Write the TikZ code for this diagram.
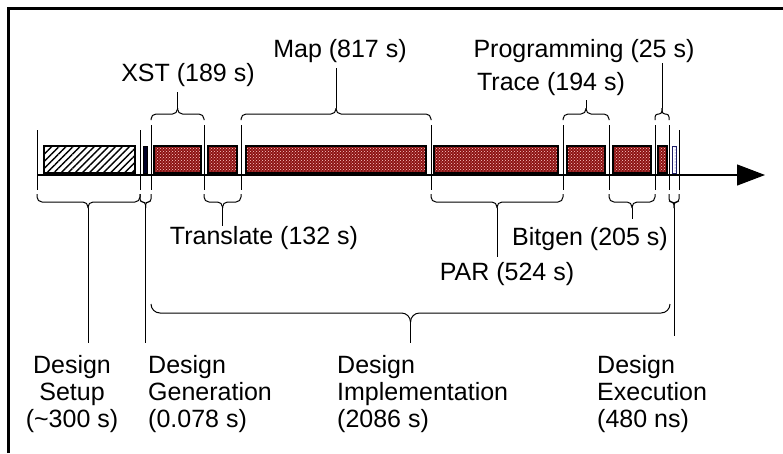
\documentclass[tikz,border=0pt]{standalone}
\usepackage{fontspec}
\setmainfont{Liberation Sans}
\usepackage{tikz}
\usetikzlibrary{
  arrows.meta,
  patterns,
  patterns.meta
}

\definecolor{chkred}{RGB}{140,18,18}
\definecolor{execblue}{RGB}{50,50,170}

\begin{document}
\begin{tikzpicture}[x=1pt, y=-1pt,
    every node/.style={font=\fontsize{25}{27}\selectfont, inner sep=0pt},
    tick/.style={line width=1pt},
    bracearm/.style={line width=1pt, rounded corners=5pt},
    smallarm/.style={line width=1pt, rounded corners=3pt},
    leg/.style={line width=1pt},
    bar/.style={draw=black, line width=1.2pt, preaction={fill=chkred}, pattern=crosshatch dots, pattern color=white!80!red}
  ]
    \useasboundingbox (0,0) rectangle (783,453);

    % Frame (cut by the page on the right and at the bottom)
    \draw[line width=3pt] (8.5,453) -- (8.5,8.5) -- (783,8.5);

    % Time axis
    \coordinate (t0) at (37,175);
    \coordinate (tend) at (765,175);
    \draw[line width=1.2pt, -{Triangle[length=28pt,width=21pt]}] (t0) -- (tend);

    % Bars: setup, generation, implementation steps, execution
    \draw[line width=1.2pt, pattern={Lines[angle=45,distance=5pt,line width=1.4pt]}] (44,146) rectangle (135,173);
    \filldraw[fill=black!85!blue, draw=black, line width=1pt] (143,146) rectangle (147,173);
    \draw[bar] (154,146) rectangle (201,173);
    \draw[bar] (208,146) rectangle (237,173);
    \draw[bar] (246,146) rectangle (426,173);
    \draw[bar] (434,146) rectangle (558,173);
    \draw[bar] (567,146) rectangle (605,173);
    \draw[bar] (613,146) rectangle (651,173);
    \draw[bar] (658,146) rectangle (667,173);
    \draw[line width=1pt, draw=execblue!60!black, pattern=dots, pattern color=execblue] (672,146) rectangle (676,173);

    % Boundary ticks
    \foreach \bx/\ty in {37/130, 140/130, 151/125, 204/125, 241/125, 431/125,
                         563/125, 609/125, 655/125, 669/125, 679/130}
      \draw[tick] (\bx,\ty) -- (\bx,190);

    % Upper braces
    \draw[bracearm] (151,120) |- (177.5,114) -- (177.5,108) coordinate (xsttip);
    \draw[bracearm] (204,120) |- (177.5,114) -- (177.5,108);
    \draw[bracearm] (241,120) |- (336,114) -- (336,108) coordinate (maptip);
    \draw[bracearm] (431,120) |- (336,114) -- (336,108);
    \draw[bracearm] (563,120) |- (586,114) -- (586,108) coordinate (tracetip);
    \draw[bracearm] (609,120) |- (586,114) -- (586,108);
    \draw[smallarm] (655,120) |- (662,114) -- (662,108) coordinate (progtip);
    \draw[smallarm] (669,120) |- (662,114) -- (662,108);

    % Lower braces
    \draw[bracearm] (37,194) |- (88,202) -- (88,208) coordinate (setuptip);
    \draw[bracearm] (140,194) |- (88,202) -- (88,208);
    \draw[smallarm] (140,194) |- (145.5,202) -- (145.5,208) coordinate (gentip);
    \draw[smallarm] (151,194) |- (145.5,202) -- (145.5,208);
    \draw[bracearm] (204,194) |- (222.5,202) -- (222.5,208) coordinate (transtip);
    \draw[bracearm] (241,194) |- (222.5,202) -- (222.5,208);
    \draw[bracearm] (431,194) |- (497,202) -- (497,208) coordinate (partip);
    \draw[bracearm] (563,194) |- (497,202) -- (497,208);
    \draw[bracearm] (609,194) |- (632,202) -- (632,208) coordinate (bitgentip);
    \draw[bracearm] (655,194) |- (632,202) -- (632,208);
    \draw[smallarm] (669,194) |- (674,202) -- (674,208) coordinate (exectip);
    \draw[smallarm] (679,194) |- (674,202) -- (674,208);

    % Implementation brace
    \draw[line width=1pt, rounded corners=9pt] (151,304) |- (410.5,313) -- (410.5,321) coordinate (impltip);
    \draw[line width=1pt, rounded corners=9pt] (670,304) |- (410.5,313) -- (410.5,321);

    % Step labels
    \node[anchor=base] (xst) at (188,81) {XST (189 s)};
    \node[anchor=base] (map) at (340,57) {Map (817 s)};
    \node[anchor=base] (prog) at (584,57) {Programming (25 s)};
    \node[anchor=base] (trace) at (551,90) {Trace (194 s)};
    \node[anchor=base] (translate) at (264,244) {Translate (132 s)};
    \node[anchor=base] (bitgen) at (590,245) {Bitgen (205 s)};
    \node[anchor=base] (par) at (507,280) {PAR (524 s)};

    % Phase labels
    \node[anchor=north, align=center] (setup) at (72,355) {Design\\Setup\\(\textasciitilde300 s)};
    \node[anchor=north west, align=left] (gen) at (148,355) {Design\\Generation\\(0.078 s)};
    \node[anchor=north west, align=left] (impl) at (337,355) {Design\\Implementation\\(2086 s)};
    \node[anchor=north west, align=left] (exec) at (597,355) {Design\\Execution\\(480 ns)};

    % Legs from braces to labels
    \draw[leg, shorten >=6pt] (xsttip) -- (xsttip |- xst.south);
    \draw[leg, shorten >=6pt] (maptip) -- (maptip |- map.south);
    \draw[leg, shorten >=5pt] (tracetip) -- (tracetip |- trace.south);
    \draw[leg, shorten >=1pt] (progtip) -- (progtip |- prog.south);
    \draw[leg] (transtip) -- (transtip |- translate.north);
    \draw[leg, shorten >=5pt] (partip) -- (partip |- par.north);
    \draw[leg, shorten >=8pt] (bitgentip) -- (bitgentip |- bitgen.north);
    \draw[leg, shorten >=12pt] (setuptip) -- (setuptip |- setup.north);
    \draw[leg, shorten >=12pt] (gentip) -- (gentip |- gen.north);
    \draw[leg, shorten >=12pt] (impltip) -- (impltip |- impl.north);
    \draw[leg, shorten >=19pt] (exectip) -- (exectip |- exec.north);
\end{tikzpicture}
\end{document}
